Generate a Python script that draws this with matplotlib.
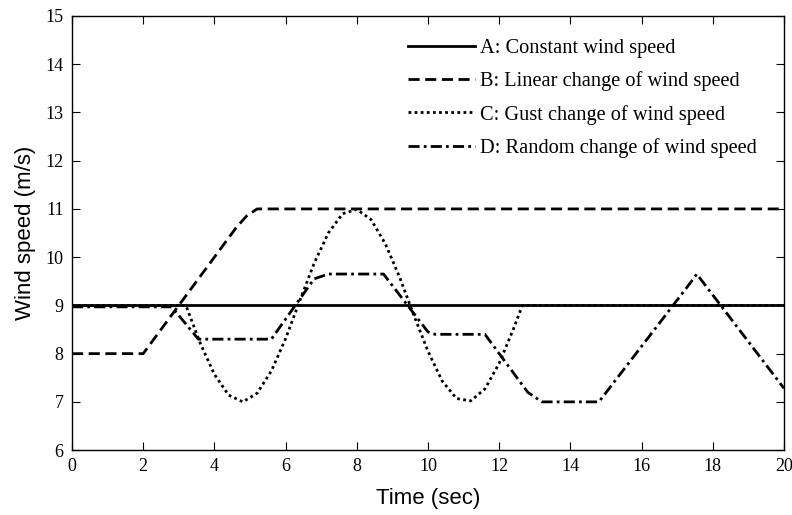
import matplotlib.pyplot as plt

# A: constant wind speed
t_a = [0, 20]
v_a = [9, 9]

# B: linear change
t_b = [0, 2, 4.6, 4.9, 5.2, 20]
v_b = [8, 8, 10.6, 10.85, 11, 11]

# C: gust change
t_c = [0, 3.2, 3.6, 4.0, 4.4, 4.8, 5.2, 5.6, 6.0, 6.4, 6.8, 7.2, 7.6, 8.0,
       8.4, 8.8, 9.2, 9.6, 10.0, 10.4, 10.8, 11.2, 11.6, 12.0, 12.4, 12.65, 20]
v_c = [9, 9, 8.22, 7.57, 7.14, 7.0, 7.18, 7.64, 8.31, 9.10, 9.87, 10.50, 10.90, 10.99,
       10.78, 10.28, 9.59, 8.80, 8.05, 7.43, 7.07, 7.02, 7.27, 7.80, 8.51, 9, 9]

# D: random change
t_d = [0, 2.8, 3.55, 5.6, 6.8, 7.2, 8.75, 10.0, 10.2, 11.6, 12.8, 13.2, 14.8, 17.3, 17.55, 20]
v_d = [8.97, 8.97, 8.3, 8.3, 9.55, 9.65, 9.65, 8.45, 8.4, 8.4, 7.2, 7.0, 7.0, 9.4, 9.65, 7.28]

labels = ['A: Constant wind speed', 'B: Linear change of wind speed',
          'C: Gust change of wind speed', 'D: Random change of wind speed']

fig = plt.figure(figsize=(7.92, 5.15), dpi=100)
ax = fig.add_axes([0.0909, 0.126, 0.899, 0.843])

lw = 2.0
ax.plot(t_a, v_a, color='black', lw=lw, linestyle='-', label=labels[0])
ax.plot(t_b, v_b, color='black', lw=lw, linestyle=(0, (4, 2)), label=labels[1])
ax.plot(t_c, v_c, color='black', lw=lw, linestyle=(0, (1, 1.2)), label=labels[2])
ax.plot(t_d, v_d, color='black', lw=lw, linestyle=(0, (4, 1.5, 1, 1.5)), label=labels[3])

ax.set_xlim(0, 20)
ax.set_ylim(6, 15)
ax.set_xticks(range(0, 21, 2))
ax.set_yticks(range(6, 16))
ax.tick_params(direction='in', top=True, right=True, length=6, width=0.8,
               labelsize=13, pad=6)
for lab in ax.get_xticklabels() + ax.get_yticklabels():
    lab.set_fontfamily('Liberation Serif')
for s in ax.spines.values():
    s.set_linewidth(1.0)

ax.set_xlabel('Time (sec)', fontsize=16, fontfamily='Liberation Sans', labelpad=9)
ax.set_ylabel('Wind speed (m/s)', fontsize=16, fontfamily='Liberation Sans', labelpad=7)

ax.legend(loc='upper left', frameon=False, prop={'family': 'Liberation Serif', 'size': 14.7},
          handlelength=3.3, handletextpad=0.2, labelspacing=0.65,
          borderaxespad=0, borderpad=0, bbox_to_anchor=(0.472, 0.947))

fig.savefig('out.png', dpi=100)
